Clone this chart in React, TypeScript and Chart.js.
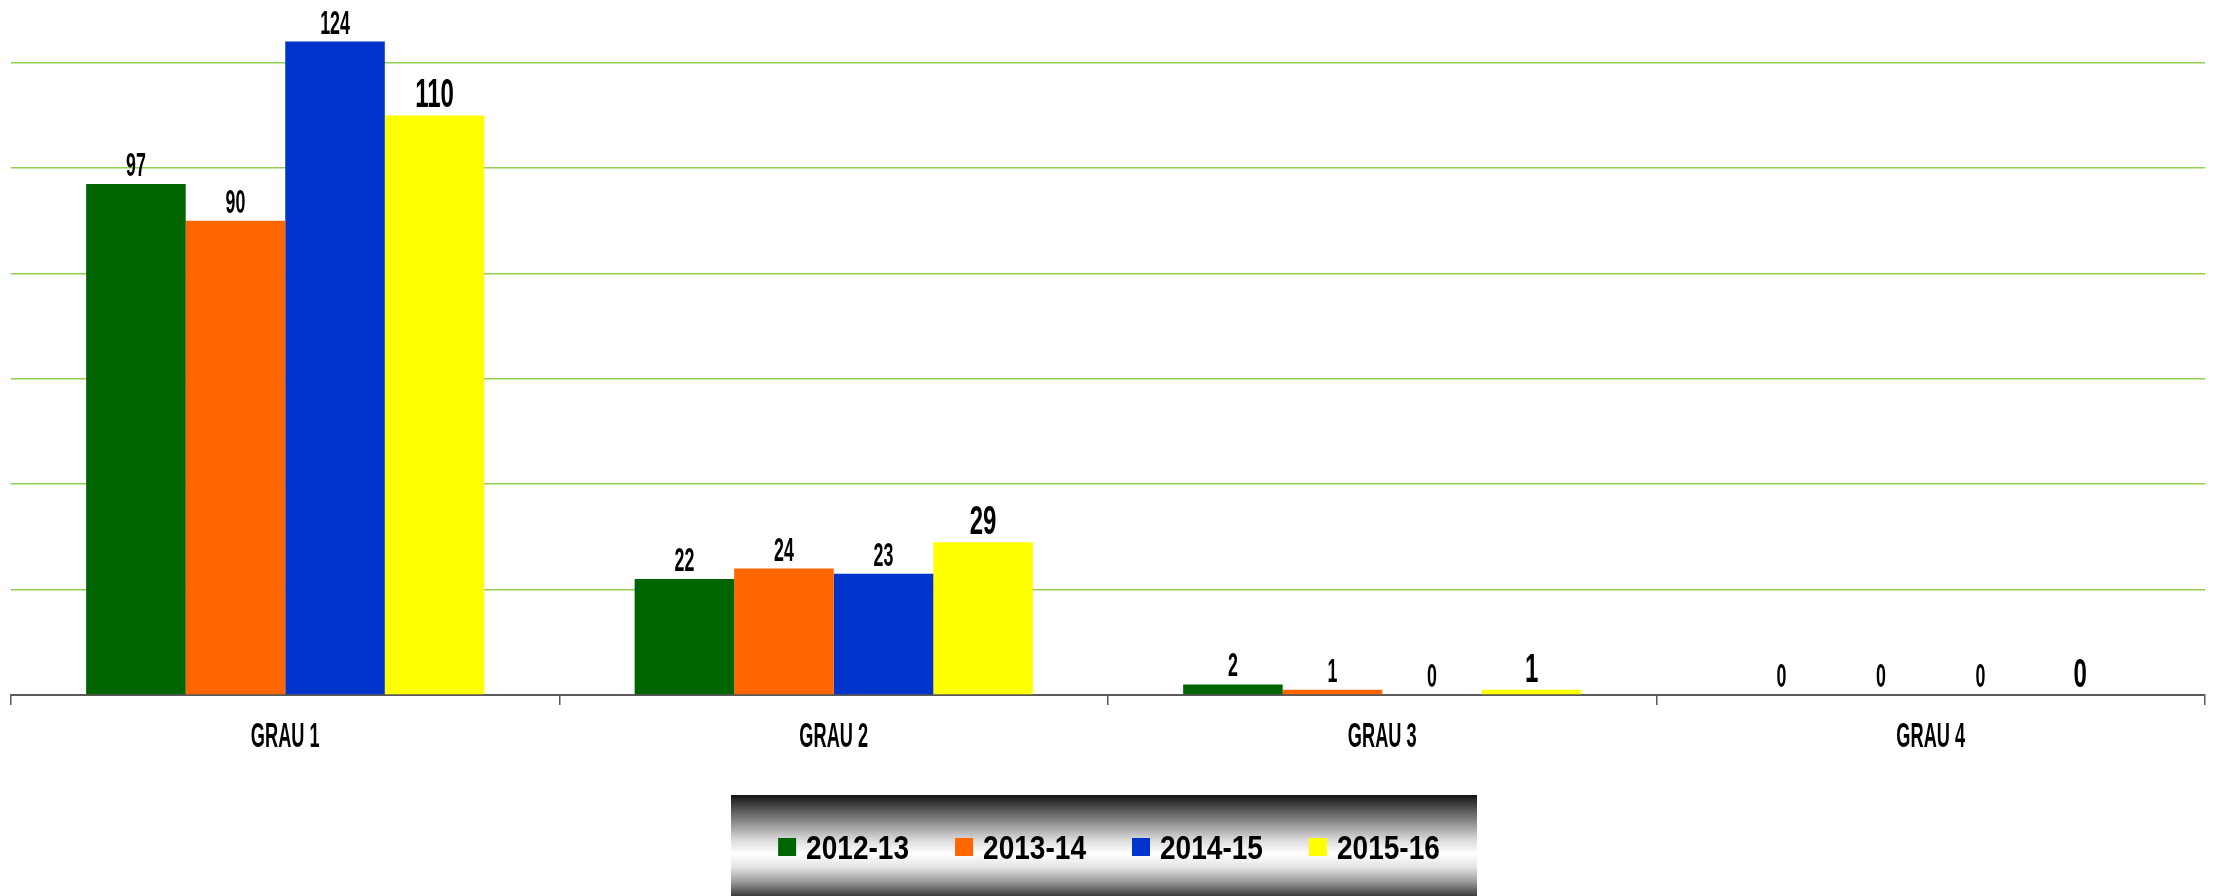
import React, { useEffect, useRef } from "react";
import { Chart, registerables } from "chart.js";

Chart.register(...registerables);

const categories = ["GRAU 1", "GRAU 2", "GRAU 3", "GRAU 4"];
const seriesNames = ["2012-13", "2013-14", "2014-15", "2015-16"];
const values2012 = [97, 22, 2, 0];
const values2013 = [90, 24, 1, 0];
const values2014 = [124, 23, 0, 0];
const values2015 = [110, 29, 1, 0];
const seriesColors = ["#006400", "#FF6600", "#0033CC", "#FFFF00"];
const gridValues = [20, 40, 60, 80, 100, 120];

const FONT = "'Liberation Sans', Arial, sans-serif";

function drawCondensed(
  ctx: CanvasRenderingContext2D,
  text: string,
  x: number,
  y: number,
  font: string,
  sx: number,
  align: "center" | "left"
) {
  ctx.save();
  ctx.font = font;
  ctx.textBaseline = "alphabetic";
  ctx.textAlign = align;
  ctx.translate(x, y);
  ctx.scale(sx, 1);
  ctx.fillText(text, 0, 0);
  ctx.restore();
}

const textPlugin = {
  id: "textPlugin",
  beforeDraw(chart: any) {
    const ctx: CanvasRenderingContext2D = chart.ctx;
    // legend background with gradient
    const lx = 731, ly = 795, lw = 746, lh = 101;
    const g = ctx.createLinearGradient(0, ly, 0, ly + lh);
    g.addColorStop(0, "#121212");
    g.addColorStop(0.12, "#4a4a4a");
    g.addColorStop(0.3, "#9a9a9a");
    g.addColorStop(0.45, "#dcdcdc");
    g.addColorStop(0.58, "#ffffff");
    g.addColorStop(0.72, "#e2e2e2");
    g.addColorStop(0.86, "#9a9a9a");
    g.addColorStop(1, "#3a3a3a");
    ctx.save();
    ctx.fillStyle = g;
    ctx.fillRect(lx, ly, lw, lh);
    ctx.restore();
  },
  afterDraw(chart: any) {
    const ctx: CanvasRenderingContext2D = chart.ctx;
    ctx.save();
    ctx.fillStyle = "#000";
    // data labels
    chart.data.datasets.forEach((ds: any, di: number) => {
      const meta = chart.getDatasetMeta(di);
      meta.data.forEach((el: any, i: number) => {
        const big = di === 3;
        drawCondensed(
          ctx,
          String(ds.data[i]),
          el.x,
          el.y - 8,
          `bold ${big ? 40 : 33}px ${FONT}`,
          big ? 0.6 : 0.54,
          "center"
        );
      });
    });
    // category labels
    const xs = chart.scales.x;
    chart.data.labels.forEach((lab: string, i: number) => {
      drawCondensed(ctx, lab, xs.getPixelForValue(i), 747, `bold 35px ${FONT}`, 0.52, "center");
    });
    // legend items
    const lfont = `bold 33px ${FONT}`;
    const sx = 0.85;
    ctx.font = lfont;
    const widths = chart.data.datasets.map((d: any) => 18 + 10 + ctx.measureText(d.label).width * sx);
    const gap = 46;
    const total = widths.reduce((a: number, b: number) => a + b, 0) + gap * (widths.length - 1);
    let x = 1109 - total / 2;
    chart.data.datasets.forEach((d: any, i: number) => {
      ctx.fillStyle = d.backgroundColor;
      ctx.fillRect(x, 838, 18, 18);
      ctx.fillStyle = "#000";
      drawCondensed(ctx, d.label, x + 28, 859, lfont, sx, "left");
      x += widths[i] + gap;
    });
    ctx.restore();
  },
};

export default function App() {
  const ref = useRef<HTMLCanvasElement | null>(null);
  useEffect(() => {
    if (!ref.current) return;
    const allValues = [values2012, values2013, values2014, values2015];
    const chart = new Chart(ref.current, {
      type: "bar",
      data: {
        labels: categories,
        datasets: seriesNames.map((name, i) => ({
          label: name,
          data: allValues[i],
          backgroundColor: seriesColors[i],
          borderWidth: 0,
          categoryPercentage: 0.726,
          barPercentage: 1.0,
        })),
      },
      options: {
        animation: false,
        responsive: true,
        maintainAspectRatio: false,
        layout: { padding: { left: 11, right: 10, top: 10, bottom: 191 } },
        plugins: {
          legend: { display: false },
          tooltip: { enabled: false },
        },
        scales: {
          x: {
            ticks: { display: false },
            grid: {
              drawOnChartArea: false,
              drawTicks: true,
              tickLength: 10,
              color: "#595959",
              lineWidth: 1.5,
            },
            border: { display: true, color: "#595959", width: 2 },
          },
          y: {
            min: 0,
            max: 130,
            ticks: { display: false, stepSize: 20 },
            grid: {
              drawTicks: false,
              lineWidth: 1.5,
              color: (c: any) =>
                c.tick && gridValues.includes(c.tick.value) ? "#92D050" : "rgba(0,0,0,0)",
            },
            border: { display: false },
          },
        },
      },
      plugins: [textPlugin],
    });
    return () => chart.destroy();
  }, []);
  return (
    <div style={{ position: "fixed", left: 0, top: 0, width: 2215, height: 896, background: "#fff" }}>
      <canvas ref={ref} />
    </div>
  );
}
